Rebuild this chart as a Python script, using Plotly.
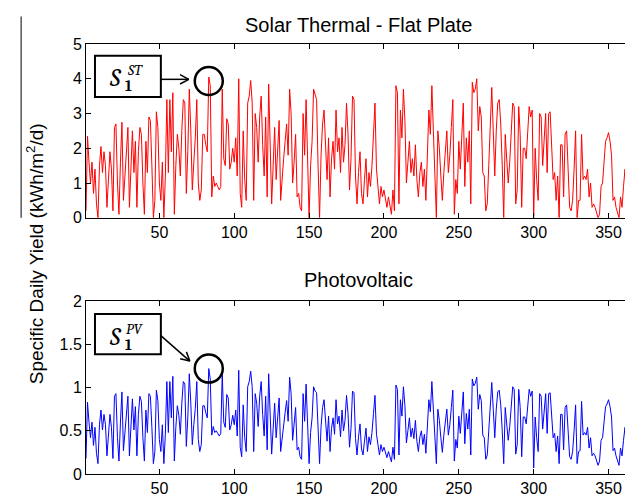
import math
import plotly.graph_objects as go

# ---------------- data ----------------
days = list(range(1, 366))

solar_thermal = [
    0.2, 2.35, 1.6, 1.0, 1.6, 0.7, 1.4, 0.4, 0.0, 1.5,
    2.05, 1.3, 1.9, 1.5, 0.3, 1.1, 1.9, 1.4, 0.2, 2.6,
    2.7, 1.0, 0.1, 1.6, 2.75, 0.5, 1.3, 2.2, 2.6, 0.3,
    1.5, 2.5, 1.3, 2.2, 0.3, 1.9, 2.6, 2.4, 1.0, 0.1,
    2.2, 1.3, 2.9, 2.8, 1.5, 0.0, 0.5, 3.05, 2.6, 1.0,
    0.5, 1.6, 0.0, 1.2, 3.4, 1.3, 3.4, 1.9, 3.6, 0.1,
    1.5, 2.4, 2.0, 1.2, 2.5, 3.4, 3.3, 0.7, 1.9, 3.7,
    2.5, 0.8, 1.6, 2.3, 3.4, 1.0, 0.5, 0.8, 2.4, 2.4,
    2.1, 1.9, 4.05, 3.8, 0.6, 1.2, 0.9, 1.0, 0.9, 0.8,
    0.9, 3.7, 1.7, 1.5, 2.85, 2.7, 1.4, 1.6, 2.0, 1.6,
    2.3, 1.2, 4.0, 0.7, 0.3, 2.5, 1.1, 0.5, 3.3, 3.5,
    3.95, 3.3, 0.5, 3.0, 2.6, 1.6, 2.9, 3.5, 2.1, 1.2,
    2.9, 0.6, 3.85, 2.3, 0.4, 1.5, 2.6, 1.1, 1.9, 2.8,
    0.5, 1.2, 1.7, 2.2, 2.7, 1.8, 3.7, 3.0, 1.0, 1.6,
    2.4, 0.6, 0.7, 0.3, 0.2, 3.0, 1.8, 3.4, 1.2, 0.0,
    1.5, 2.2, 3.7, 3.5, 3.4, 1.5, 0.0, 1.8, 2.7, 3.1,
    2.0, 1.1, 2.3, 0.6, 1.7, 2.2, 1.4, 3.1, 1.9, 2.3,
    1.3, 2.6, 1.6, 2.1, 3.3, 2.4, 0.8, 1.7, 3.5, 3.4,
    1.2, 0.4, 1.3, 1.9, 0.7, 0.4, 1.1, 1.7, 0.6, 1.3,
    0.9, 1.5, 2.4, 3.3, 1.4, 0.8, 0.4, 0.9, 0.6, 0.8,
    0.5, 0.3, 0.6, 0.3, 0.1, 0.8, 0.2, 3.8, 3.6, 0.4,
    3.1, 2.3, 3.7, 2.8, 1.0, 1.6, 2.2, 1.3, 1.7, 1.2,
    2.1, 1.1, 0.6, 1.3, 1.6, 0.9, 1.4, 0.5, 2.0, 3.1,
    2.4, 3.8, 2.5, 1.4, 0.0, 2.5, 2.0, 1.2, 0.5, 1.3,
    2.0, 2.5, 1.3, 1.8, 2.6, 3.4, 0.1, 1.1, 0.7, 2.2,
    1.4, 2.6, 3.3, 0.9, 2.3, 1.6, 2.5, 0.4, 3.9, 3.6,
    3.7, 4.0, 2.5, 3.2, 2.9, 1.3, 1.2, 0.2, 0.4, 1.5,
    3.0, 3.75, 2.5, 1.2, 2.5, 3.3, 3.4, 2.7, 1.5, 0.0,
    2.4, 1.7, 1.0, 1.6, 2.6, 3.3, 3.2, 0.4, 0.8, 3.2,
    2.4, 0.3, 2.0, 2.0, 1.7, 2.3, 3.2, 2.9, 3.1, 0.0,
    2.0, 1.1, 0.5, 3.0, 2.9, 1.5, 2.2, 3.0, 1.3, 3.0,
    3.05, 1.9, 1.1, 1.3, 0.5, 1.2, 0.0, 2.1, 2.1, 0.6,
    2.4, 2.5, 1.6, 0.3, 0.2, 0.5, 1.4, 2.5, 0.0, 0.5,
    0.5, 2.4, 1.1, 1.2, 1.1, 1.4, 0.6, 1.0, 0.3, 0.4,
    0.3, 0.1, 0.0, 0.1, 0.9, 1.0, 1.7, 2.2, 2.3, 2.45,
    2.2, 1.8, 0.5, 0.6, 0.3, 0.1, 0.0, 0.6, 0.3, 0.9,
    1.4, 0.5, 1.8, 0.7, 2.0,
]

photovoltaic = [
    0.18, 0.83, 0.60, 0.42, 0.60, 0.33, 0.54, 0.24, 0.12, 0.57,
    0.74, 0.51, 0.69, 0.57, 0.21, 0.45, 0.69, 0.54, 0.18, 0.90,
    0.93, 0.42, 0.15, 0.60, 0.95, 0.27, 0.51, 0.78, 0.90, 0.21,
    0.57, 0.87, 0.51, 0.78, 0.21, 0.69, 0.90, 0.84, 0.42, 0.15,
    0.74, 0.48, 0.93, 0.90, 0.54, 0.12, 0.26, 0.97, 0.85, 0.40,
    0.26, 0.57, 0.12, 0.46, 1.07, 0.48, 1.07, 0.65, 1.13, 0.15,
    0.54, 0.79, 0.68, 0.46, 0.82, 1.07, 1.04, 0.32, 0.65, 1.16,
    0.82, 0.34, 0.57, 0.76, 1.07, 0.40, 0.26, 0.34, 0.79, 0.79,
    0.71, 0.65, 1.22, 1.10, 0.45, 0.55, 0.48, 0.50, 0.47, 0.44,
    0.47, 1.16, 0.60, 0.54, 0.92, 0.88, 0.51, 0.57, 0.68, 0.57,
    0.74, 0.44, 1.20, 0.31, 0.20, 0.80, 0.42, 0.26, 1.01, 1.07,
    1.19, 1.01, 0.26, 0.93, 0.82, 0.55, 0.90, 1.07, 0.69, 0.44,
    0.90, 0.28, 1.16, 0.74, 0.23, 0.53, 0.82, 0.42, 0.63, 0.88,
    0.26, 0.44, 0.58, 0.71, 0.85, 0.61, 1.12, 0.93, 0.39, 0.55,
    0.77, 0.28, 0.31, 0.20, 0.17, 0.93, 0.61, 1.04, 0.44, 0.12,
    0.48, 0.65, 1.01, 0.96, 0.94, 0.48, 0.12, 0.55, 0.77, 0.86,
    0.60, 0.38, 0.67, 0.26, 0.53, 0.65, 0.46, 0.86, 0.58, 0.67,
    0.43, 0.74, 0.50, 0.62, 0.91, 0.70, 0.31, 0.53, 0.96, 0.94,
    0.41, 0.22, 0.43, 0.58, 0.29, 0.22, 0.38, 0.53, 0.26, 0.43,
    0.34, 0.48, 0.70, 0.91, 0.46, 0.31, 0.22, 0.34, 0.26, 0.31,
    0.24, 0.19, 0.26, 0.19, 0.14, 0.31, 0.17, 1.03, 0.98, 0.22,
    0.86, 0.67, 1.01, 0.79, 0.36, 0.50, 0.65, 0.43, 0.53, 0.41,
    0.62, 0.38, 0.26, 0.43, 0.50, 0.34, 0.46, 0.24, 0.60, 0.86,
    0.72, 1.07, 0.75, 0.47, 0.12, 0.75, 0.62, 0.42, 0.25, 0.45,
    0.62, 0.75, 0.45, 0.57, 0.77, 0.97, 0.15, 0.40, 0.30, 0.67,
    0.47, 0.77, 0.95, 0.35, 0.70, 0.52, 0.75, 0.22, 1.10, 1.02,
    1.05, 1.12, 0.75, 0.92, 0.85, 0.45, 0.42, 0.17, 0.22, 0.50,
    0.87, 1.06, 0.75, 0.42, 0.75, 0.95, 0.97, 0.80, 0.50, 0.12,
    0.77, 0.58, 0.39, 0.55, 0.82, 1.01, 0.98, 0.23, 0.34, 0.98,
    0.77, 0.20, 0.66, 0.66, 0.58, 0.74, 0.98, 0.90, 0.96, 0.07,
    0.66, 0.42, 0.26, 0.93, 0.90, 0.52, 0.71, 0.93, 0.47, 0.93,
    0.94, 0.63, 0.42, 0.47, 0.26, 0.44, 0.12, 0.69, 0.69, 0.28,
    0.77, 0.80, 0.55, 0.20, 0.17, 0.26, 0.50, 0.80, 0.12, 0.26,
    0.27, 0.84, 0.45, 0.48, 0.45, 0.54, 0.30, 0.42, 0.21, 0.24,
    0.21, 0.15, 0.10, 0.15, 0.39, 0.42, 0.63, 0.78, 0.81, 0.86,
    0.78, 0.66, 0.27, 0.30, 0.21, 0.15, 0.10, 0.30, 0.21, 0.39,
    0.54, 0.27, 0.66, 0.33, 0.72,
]

x_ticks = [50, 100, 150, 200, 250, 300, 350]
st_ticks = [0, 1, 2, 3, 4, 5]
pv_ticks = [0, 0.5, 1, 1.5, 2]
pv_tick_text = ["0", "0.5", "1", "1.5", "2"]

title_st = "Solar Thermal - Flat Plate"
title_pv = "Photovoltaic"
y_label = "Specific Daily Yield (kWh/m<sup>2</sup>/d)"

# ---------------- layout geometry (pixels) ----------------
W, H = 633, 498
ML, MR, MT, MB = 78, 9, 36, 24
PW, PH = W - ML - MR, H - MT - MB
TOP_BOTTOM_PX = 213
BOT_TOP_PX = 298


def px(x):
    return (x - ML) / PW


def py(y):
    return (H - MB - y) / PH


FONT = "Arial, Liberation Sans, sans-serif"
SERIF = "Cambria, DejaVu Serif, Liberation Serif, serif"

fig = go.Figure()
fig.add_trace(go.Scatter(x=days, y=solar_thermal, mode="lines",
                         line=dict(color="#FF0000", width=1),
                         xaxis="x", yaxis="y", showlegend=False))
fig.add_trace(go.Scatter(x=days, y=photovoltaic, mode="lines",
                         line=dict(color="#0000FF", width=1),
                         xaxis="x2", yaxis="y2", showlegend=False))

axis_common = dict(showline=True, linecolor="black", linewidth=1, mirror="allticks",
                   ticks="inside", ticklen=5, tickcolor="black", showgrid=False,
                   zeroline=False, tickfont=dict(family=FONT, size=16, color="black"))

fig.update_layout(
    width=W, height=H,
    margin=dict(l=ML, r=MR, t=MT, b=MB),
    paper_bgcolor="white", plot_bgcolor="white",
    xaxis=dict(domain=[0, 1], range=[1, 365], tickvals=x_ticks, anchor="y", **axis_common),
    yaxis=dict(domain=[py(TOP_BOTTOM_PX), 1], range=[0, 5], tickvals=st_ticks, anchor="x",
               **axis_common),
    xaxis2=dict(domain=[0, 1], range=[1, 365], tickvals=x_ticks, anchor="y2", **axis_common),
    yaxis2=dict(domain=[0, py(BOT_TOP_PX)], range=[0, 2], tickvals=pv_ticks,
                ticktext=pv_tick_text, anchor="x2", **axis_common),
)

annotations = []
# titles
annotations.append(dict(text=title_st, xref="paper", yref="paper", x=0.5, y=1,
                        yanchor="bottom", yshift=6, showarrow=False,
                        font=dict(family=FONT, size=20, color="black")))
annotations.append(dict(text=title_pv, xref="paper", yref="paper", x=0.5, y=py(BOT_TOP_PX),
                        yanchor="bottom", yshift=8, showarrow=False,
                        font=dict(family=FONT, size=20, color="black")))
# y label
annotations.append(dict(text=y_label, xref="paper", yref="paper", x=px(27), y=py(250),
                        textangle=-90, showarrow=False, xanchor="center", yanchor="middle",
                        font=dict(family=FONT, size=19, color="black")))

shapes = []
# overline artefact at the left edge
shapes.append(dict(type="line", xref="paper", yref="paper", x0=px(13), x1=px(13),
                   y0=py(8), y1=py(213), line=dict(color="black", width=1)))

# callouts: peak-day markers anchored to the data
peak_st = max(range(len(solar_thermal)), key=lambda i: solar_thermal[i])
peak_pv = max(range(len(photovoltaic)), key=lambda i: photovoltaic[i])


def text_at(txt, x, y, size, family=SERIF):
    annotations.append(dict(text=txt, xref="paper", yref="paper", x=px(x), y=py(y),
                            xanchor="center", yanchor="middle", showarrow=False,
                            font=dict(family=family, size=size, color="black")))


def callout(box, s_pos, sup_pos, sub_pos, arrow_from, arrow_to, sup,
            xaxis, yaxis, pday, pval, circ_dy):
    bx0, by0, bx1, by1 = box
    shapes.append(dict(type="rect", xref="paper", yref="paper",
                       x0=px(bx0), x1=px(bx1), y0=py(by1), y1=py(by0),
                       line=dict(color="black", width=2), fillcolor="white"))
    text_at("<i>S</i>", s_pos[0], s_pos[1], 25)
    text_at("<i>" + sup + "</i>", sup_pos[0], sup_pos[1], 15)
    text_at("<b>1</b>", sub_pos[0], sub_pos[1], 15)
    (ax0, ay0), (ax1, ay1) = arrow_from, arrow_to
    shapes.append(dict(type="line", xref="paper", yref="paper",
                       x0=px(ax0), y0=py(ay0), x1=px(ax1), y1=py(ay1),
                       line=dict(color="black", width=1.5)))
    ang = math.atan2(ay1 - ay0, ax1 - ax0)
    for da in (2.65, -2.65):
        hx = ax1 + 10 * math.cos(ang + da)
        hy = ay1 + 10 * math.sin(ang + da)
        shapes.append(dict(type="line", xref="paper", yref="paper",
                           x0=px(ax1), y0=py(ay1), x1=px(hx), y1=py(hy),
                           line=dict(color="black", width=1.5)))
    shapes.append(dict(type="circle", xref=xaxis, yref=yaxis,
                       xsizemode="pixel", ysizemode="pixel",
                       xanchor=pday, yanchor=pval,
                       x0=-14, x1=14, y0=-14 - circ_dy, y1=14 - circ_dy,
                       line=dict(color="black", width=2.5)))


callout((87, 48, 153, 90), (108, 70), (127, 62), (121, 79),
        (153, 72), (181, 72), "ST", "x", "y",
        days[peak_st], solar_thermal[peak_st], 4)
callout((87, 311, 153, 352), (108, 334), (127, 326), (121, 343),
        (153, 333), (182, 359), "PV", "x2", "y2",
        days[peak_pv], photovoltaic[peak_pv], 0)

fig.update_layout(annotations=annotations, shapes=shapes)

assert len(solar_thermal) == 365 and len(photovoltaic) == 365
fig.write_html("out.html")
